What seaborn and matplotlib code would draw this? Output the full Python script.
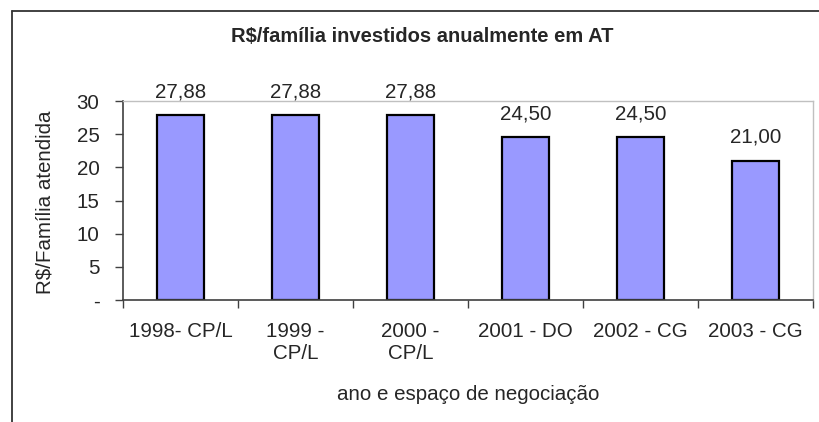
import matplotlib
matplotlib.use("Agg")
from matplotlib import pyplot as plt
from matplotlib.lines import Line2D
import seaborn as sns
import pandas as pd

categorias = ["1998- CP/L", "1999 -\nCP/L", "2000 -\nCP/L", "2001 - DO", "2002 - CG", "2003 - CG"]
valores = [27.88, 27.88, 27.88, 24.50, 24.50, 21.00]
yticks = [0, 5, 10, 15, 20, 25, 30]
ytick_labels = ["-", "5", "10", "15", "20", "25", "30"]

sns.set_style("white")
plt.rcParams['font.family'] = ['Liberation Sans', 'DejaVu Sans']

fs = 14.8

df = pd.DataFrame({"cat": categorias, "val": valores})

fig = plt.figure(figsize=(8.19, 4.22), dpi=100)
ax = fig.add_axes([123 / 819, 1 - 300 / 422, 690 / 819, 199 / 422])

sns.barplot(data=df, x="cat", y="val", ax=ax, color="#9999FF", width=0.41,
            edgecolor="black", linewidth=1.6, saturation=1)

ax.set_xlim(-0.5, len(categorias) - 0.5)
ax.set_ylim(0, 30)
ax.set_yticks(yticks)
ax.set_yticklabels(ytick_labels, fontsize=fs)

# ticks at category boundaries, labels at centers
ax.set_xticks([i - 0.5 for i in range(len(categorias) + 1)])
ax.set_xticklabels([])
ax.set_xticks(range(len(categorias)), minor=True)
ax.set_xticklabels(categorias, minor=True, fontsize=fs, linespacing=1.2)
ax.tick_params(axis="x", which="major", direction="out", length=6, width=1, color="#404040", bottom=True)
ax.tick_params(axis="x", which="minor", length=0, pad=16)
ax.tick_params(axis="y", direction="out", length=6, width=1, color="#404040", left=True, pad=11)

for s in ["left", "bottom"]:
    ax.spines[s].set_color("#404040")
    ax.spines[s].set_linewidth(1.2)
for s in ["top", "right"]:
    ax.spines[s].set_color("#c0c0c0")
    ax.spines[s].set_linewidth(1)

ax.bar_label(ax.containers[0], labels=[f"{v:.2f}".replace(".", ",") for v in valores],
             padding=10, fontsize=fs)

ax.set_xlabel("ano e espaço de negociação", fontsize=fs)
ax.set_ylabel("R$/Família atendida", fontsize=fs)
ax.xaxis.set_label_coords(0.5, -0.425)
ax.yaxis.set_label_coords(-0.099, 0.49)

fig.text(422 / 819, 1 - 36 / 422, "R$/família investidos anualmente em AT",
         ha="center", va="center", fontsize=14.5, fontweight="bold")

# chart frame
x0 = 12 / 819
y0 = 1 - 11 / 422
fig.add_artist(Line2D([x0, x0], [0, y0], color="#333333", lw=1.3))
fig.add_artist(Line2D([x0, 1], [y0, y0], color="#333333", lw=1.3))

fig.savefig("out.png", dpi=100)
